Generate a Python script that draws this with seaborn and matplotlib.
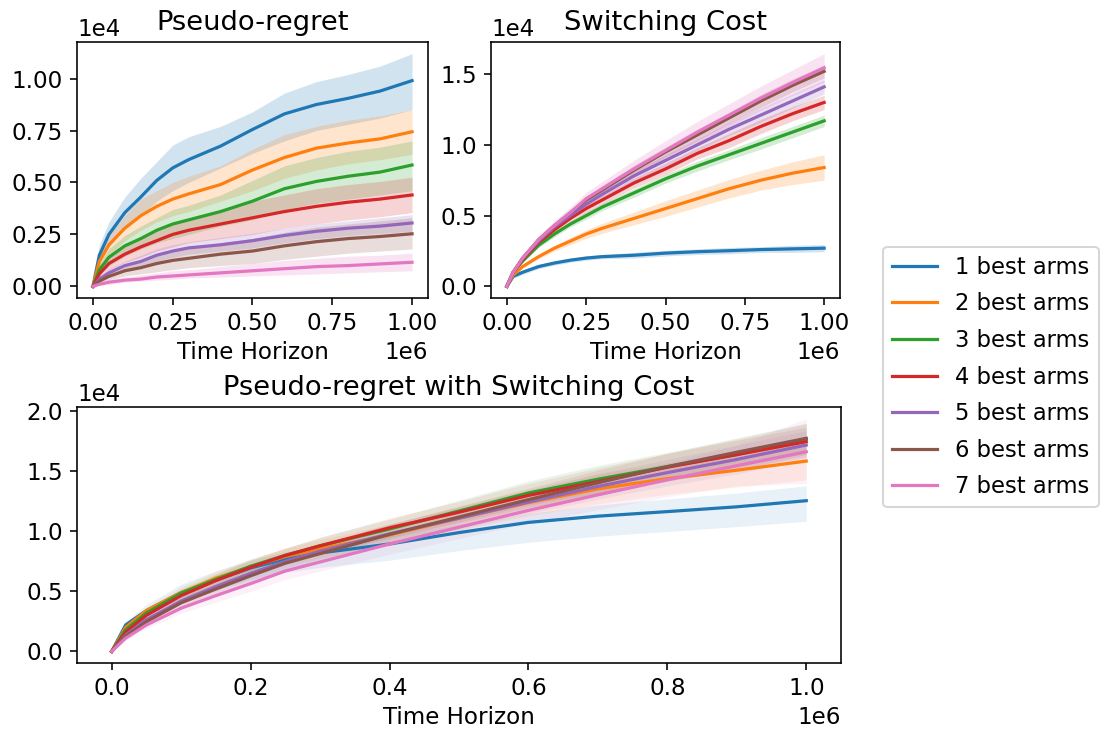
import numpy as np
import pandas as pd
import matplotlib
matplotlib.use("Agg")
import matplotlib.pyplot as plt
import seaborn as sns

# Time horizon (x 1e6)
T = [0, 0.02, 0.05, 0.1, 0.15, 0.2, 0.25, 0.3, 0.4, 0.5, 0.6, 0.7, 0.8, 0.9, 1.0]
labels = ["1 best arms", "2 best arms", "3 best arms", "4 best arms",
          "5 best arms", "6 best arms", "7 best arms"]

# Tick positions (axis units: x in 1e6, y in 1e4)
top_xticks = [0, 0.25, 0.5, 0.75, 1.0]
bot_xticks = [0, 0.2, 0.4, 0.6, 0.8, 1.0]
reg_yticks = [0, 0.25, 0.5, 0.75, 1.0]
sw_yticks = [0, 0.5, 1.0, 1.5]
tot_yticks = [0, 0.5, 1.0, 1.5, 2.0]

# ---------------- Pseudo-regret (x 1e4) ----------------
reg_mean = [
    [0, 0.15, 0.25, 0.355, 0.43, 0.51, 0.57, 0.61, 0.675, 0.755, 0.83, 0.875, 0.905, 0.94, 0.99],
    [0, 0.12, 0.20, 0.28, 0.34, 0.385, 0.42, 0.445, 0.49, 0.56, 0.62, 0.665, 0.69, 0.71, 0.744],
    [0, 0.08, 0.14, 0.195, 0.23, 0.27, 0.30, 0.32, 0.36, 0.41, 0.47, 0.505, 0.53, 0.55, 0.584],
    [0, 0.06, 0.11, 0.155, 0.19, 0.22, 0.25, 0.27, 0.30, 0.33, 0.36, 0.385, 0.405, 0.42, 0.44],
    [0, 0.035, 0.065, 0.10, 0.12, 0.15, 0.17, 0.185, 0.20, 0.22, 0.245, 0.265, 0.28, 0.29, 0.305],
    [0, 0.025, 0.048, 0.075, 0.09, 0.11, 0.125, 0.135, 0.155, 0.17, 0.195, 0.215, 0.23, 0.24, 0.253],
    [0, 0.01, 0.02, 0.03, 0.035, 0.045, 0.05, 0.055, 0.065, 0.075, 0.085, 0.095, 0.10, 0.108, 0.116],
]
reg_up = [
    [0, 0.20, 0.31, 0.43, 0.52, 0.60, 0.68, 0.72, 0.77, 0.84, 0.93, 0.985, 1.02, 1.06, 1.12],
    [0, 0.16, 0.25, 0.34, 0.42, 0.46, 0.50, 0.53, 0.58, 0.66, 0.73, 0.77, 0.80, 0.82, 0.85],
    [0, 0.11, 0.18, 0.245, 0.29, 0.33, 0.37, 0.39, 0.44, 0.51, 0.58, 0.62, 0.65, 0.67, 0.70],
    [0, 0.08, 0.14, 0.195, 0.24, 0.28, 0.31, 0.33, 0.37, 0.41, 0.44, 0.47, 0.49, 0.505, 0.525],
    [0, 0.045, 0.085, 0.12, 0.15, 0.18, 0.20, 0.215, 0.235, 0.255, 0.28, 0.30, 0.315, 0.33, 0.345],
    [0, 0.035, 0.065, 0.10, 0.125, 0.15, 0.17, 0.185, 0.21, 0.23, 0.26, 0.285, 0.30, 0.315, 0.33],
    [0, 0.015, 0.03, 0.045, 0.055, 0.065, 0.075, 0.08, 0.095, 0.11, 0.125, 0.135, 0.145, 0.15, 0.16],
]
reg_lo = [
    [0, 0.11, 0.19, 0.28, 0.34, 0.41, 0.46, 0.50, 0.57, 0.64, 0.70, 0.75, 0.78, 0.81, 0.85],
    [0, 0.08, 0.15, 0.22, 0.27, 0.31, 0.34, 0.36, 0.41, 0.46, 0.52, 0.56, 0.59, 0.61, 0.635],
    [0, 0.05, 0.10, 0.145, 0.18, 0.21, 0.23, 0.25, 0.29, 0.32, 0.37, 0.40, 0.42, 0.44, 0.46],
    [0, 0.04, 0.08, 0.115, 0.14, 0.17, 0.19, 0.21, 0.23, 0.25, 0.28, 0.30, 0.32, 0.335, 0.355],
    [0, 0.025, 0.05, 0.08, 0.095, 0.12, 0.14, 0.155, 0.17, 0.185, 0.21, 0.23, 0.245, 0.255, 0.265],
    [0, 0.015, 0.03, 0.05, 0.06, 0.07, 0.08, 0.09, 0.10, 0.11, 0.13, 0.145, 0.16, 0.17, 0.18],
    [0, 0.005, 0.01, 0.02, 0.025, 0.03, 0.035, 0.04, 0.045, 0.05, 0.055, 0.06, 0.065, 0.07, 0.075],
]

# ---------------- Switching cost (x 1e4) ----------------
sw_mean = [
    [0, 0.07, 0.10, 0.14, 0.165, 0.185, 0.20, 0.21, 0.22, 0.235, 0.245, 0.252, 0.26, 0.265, 0.27],
    [0, 0.08, 0.14, 0.21, 0.27, 0.32, 0.37, 0.41, 0.48, 0.55, 0.62, 0.69, 0.75, 0.80, 0.84],
    [0, 0.10, 0.18, 0.29, 0.37, 0.44, 0.50, 0.56, 0.66, 0.76, 0.85, 0.93, 1.01, 1.09, 1.17],
    [0, 0.10, 0.19, 0.31, 0.40, 0.48, 0.55, 0.61, 0.73, 0.83, 0.94, 1.03, 1.13, 1.22, 1.30],
    [0, 0.10, 0.20, 0.32, 0.42, 0.50, 0.58, 0.65, 0.78, 0.89, 1.00, 1.11, 1.21, 1.31, 1.41],
    [0, 0.10, 0.20, 0.33, 0.43, 0.52, 0.61, 0.68, 0.82, 0.95, 1.07, 1.19, 1.31, 1.42, 1.52],
    [0, 0.10, 0.20, 0.33, 0.43, 0.52, 0.62, 0.69, 0.83, 0.96, 1.09, 1.21, 1.33, 1.44, 1.545],
]
sw_up = [
    [0, 0.08, 0.115, 0.155, 0.18, 0.20, 0.215, 0.225, 0.24, 0.255, 0.265, 0.275, 0.28, 0.29, 0.295],
    [0, 0.085, 0.15, 0.225, 0.29, 0.345, 0.40, 0.445, 0.525, 0.605, 0.68, 0.755, 0.82, 0.88, 0.93],
    [0, 0.105, 0.19, 0.305, 0.39, 0.46, 0.525, 0.585, 0.69, 0.79, 0.885, 0.965, 1.05, 1.13, 1.21],
    [0, 0.11, 0.20, 0.325, 0.42, 0.505, 0.58, 0.64, 0.765, 0.87, 0.98, 1.08, 1.18, 1.27, 1.35],
    [0, 0.11, 0.21, 0.335, 0.44, 0.525, 0.61, 0.68, 0.815, 0.93, 1.04, 1.155, 1.26, 1.36, 1.46],
    [0, 0.11, 0.21, 0.345, 0.45, 0.545, 0.635, 0.71, 0.855, 0.985, 1.11, 1.23, 1.355, 1.465, 1.565],
    [0, 0.11, 0.215, 0.355, 0.465, 0.56, 0.665, 0.74, 0.89, 1.03, 1.165, 1.29, 1.415, 1.53, 1.645],
]
sw_lo = [
    [0, 0.06, 0.085, 0.125, 0.15, 0.17, 0.185, 0.195, 0.20, 0.215, 0.225, 0.23, 0.24, 0.24, 0.245],
    [0, 0.075, 0.13, 0.195, 0.25, 0.295, 0.34, 0.375, 0.435, 0.495, 0.56, 0.625, 0.68, 0.72, 0.75],
    [0, 0.095, 0.17, 0.275, 0.35, 0.42, 0.475, 0.535, 0.63, 0.73, 0.815, 0.895, 0.97, 1.05, 1.13],
    [0, 0.09, 0.18, 0.295, 0.38, 0.455, 0.52, 0.58, 0.695, 0.79, 0.90, 0.98, 1.08, 1.17, 1.25],
    [0, 0.09, 0.19, 0.305, 0.40, 0.475, 0.55, 0.62, 0.745, 0.85, 0.96, 1.065, 1.16, 1.26, 1.36],
    [0, 0.09, 0.19, 0.315, 0.41, 0.495, 0.585, 0.65, 0.785, 0.915, 1.03, 1.15, 1.265, 1.375, 1.475],
    [0, 0.09, 0.185, 0.305, 0.395, 0.48, 0.575, 0.64, 0.77, 0.89, 1.015, 1.13, 1.245, 1.35, 1.445],
]

# ---------------- Pseudo-regret with switching cost (x 1e4) ----------------
tot_mean = [
    [0, 0.22, 0.34, 0.49, 0.595, 0.695, 0.77, 0.82, 0.895, 0.99, 1.075, 1.127, 1.165, 1.205, 1.256],
    [0, 0.20, 0.34, 0.49, 0.61, 0.705, 0.79, 0.855, 0.97, 1.11, 1.24, 1.355, 1.44, 1.51, 1.586],
    [0, 0.18, 0.32, 0.485, 0.60, 0.71, 0.80, 0.88, 1.02, 1.17, 1.32, 1.435, 1.54, 1.64, 1.77],
    [0, 0.16, 0.30, 0.465, 0.59, 0.70, 0.80, 0.88, 1.03, 1.16, 1.30, 1.415, 1.535, 1.64, 1.748],
    [0, 0.135, 0.265, 0.42, 0.54, 0.65, 0.75, 0.835, 0.98, 1.11, 1.245, 1.375, 1.49, 1.60, 1.72],
    [0, 0.125, 0.248, 0.405, 0.52, 0.63, 0.735, 0.815, 0.975, 1.12, 1.265, 1.405, 1.54, 1.66, 1.776],
    [0, 0.11, 0.22, 0.36, 0.465, 0.565, 0.67, 0.745, 0.895, 1.035, 1.175, 1.305, 1.43, 1.548, 1.664],
]
tot_up = [
    [0, 0.25, 0.39, 0.56, 0.67, 0.76, 0.83, 0.88, 0.96, 1.06, 1.15, 1.22, 1.27, 1.32, 1.38],
    [0, 0.22, 0.37, 0.54, 0.67, 0.77, 0.86, 0.93, 1.06, 1.21, 1.35, 1.48, 1.57, 1.65, 1.74],
    [0, 0.20, 0.35, 0.525, 0.65, 0.77, 0.86, 0.95, 1.10, 1.26, 1.42, 1.55, 1.66, 1.77, 1.90],
    [0, 0.18, 0.33, 0.505, 0.64, 0.76, 0.86, 0.95, 1.11, 1.25, 1.40, 1.53, 1.65, 1.76, 1.87],
    [0, 0.155, 0.295, 0.46, 0.59, 0.71, 0.81, 0.90, 1.06, 1.20, 1.34, 1.48, 1.60, 1.72, 1.84],
    [0, 0.145, 0.28, 0.45, 0.57, 0.69, 0.80, 0.89, 1.06, 1.21, 1.36, 1.51, 1.65, 1.78, 1.90],
    [0, 0.13, 0.25, 0.40, 0.52, 0.63, 0.74, 0.82, 0.98, 1.13, 1.28, 1.43, 1.57, 1.72, 1.94],
]
tot_lo = [
    [0, 0.19, 0.29, 0.42, 0.51, 0.60, 0.66, 0.70, 0.76, 0.84, 0.91, 0.96, 1.00, 1.04, 1.085],
    [0, 0.18, 0.31, 0.44, 0.55, 0.64, 0.72, 0.78, 0.88, 1.01, 1.13, 1.23, 1.31, 1.37, 1.43],
    [0, 0.16, 0.29, 0.445, 0.55, 0.65, 0.74, 0.81, 0.94, 1.08, 1.22, 1.32, 1.42, 1.51, 1.64],
    [0, 0.14, 0.27, 0.425, 0.54, 0.64, 0.74, 0.81, 0.95, 1.07, 1.20, 1.30, 1.42, 1.52, 1.62],
    [0, 0.115, 0.235, 0.38, 0.49, 0.59, 0.69, 0.77, 0.90, 1.02, 1.15, 1.27, 1.38, 1.48, 1.60],
    [0, 0.105, 0.215, 0.36, 0.47, 0.57, 0.67, 0.74, 0.89, 1.03, 1.17, 1.30, 1.43, 1.54, 1.65],
    [0, 0.09, 0.19, 0.32, 0.41, 0.50, 0.60, 0.67, 0.81, 0.94, 1.07, 1.18, 1.29, 1.38, 1.40],
]

colors = sns.color_palette("tab10", 7)
DPI = 144
plt.rcParams.update({
    "font.size": 11.5,
    "xtick.labelsize": 11.5,
    "ytick.labelsize": 11.5,
    "axes.labelsize": 11.5,
})
fig = plt.figure(figsize=(1101 / DPI, 734 / DPI), dpi=DPI)
W, H = 1101, 734


def add_ax(l, t, r, b):
    return fig.add_axes([l / W, 1 - b / H, (r - l) / W, (b - t) / H])


ax1 = add_ax(77, 42, 428, 298)
ax2 = add_ax(491, 42, 840, 298)
ax3 = add_ax(77, 407, 841, 663)


def draw(ax, means, ups, los, alpha, title, xt, yt):
    x = np.array(T) * 1e6
    for i, lab in enumerate(labels):
        df = pd.DataFrame({"t": x, "v": np.array(means[i]) * 1e4})
        sns.lineplot(data=df, x="t", y="v", ax=ax, color=colors[i], lw=1.6,
                     label=lab, legend=False)
        ax.fill_between(x, np.array(los[i]) * 1e4, np.array(ups[i]) * 1e4,
                        color=colors[i], alpha=alpha, lw=0)
    ax.set_xticks(np.array(xt) * 1e6)
    ax.set_yticks(np.array(yt) * 1e4)
    ax.set_title(title, fontsize=13.7)
    ax.set_xlabel("Time Horizon", fontsize=11.5, labelpad=3)
    ax.set_ylabel("")
    ax.ticklabel_format(style="sci", axis="both", scilimits=(0, 0))


draw(ax1, reg_mean, reg_up, reg_lo, 0.2, "Pseudo-regret", top_xticks, reg_yticks)
draw(ax2, sw_mean, sw_up, sw_lo, 0.2, "Switching Cost", top_xticks, sw_yticks)
draw(ax3, tot_mean, tot_up, tot_lo, 0.1, "Pseudo-regret with Switching Cost",
     bot_xticks, tot_yticks)

handles = ax1.get_lines()[:7]
fig.legend(handles, labels, loc="center left", bbox_to_anchor=(883 / W, 1 - 377 / H),
           borderaxespad=0, fontsize=11.3, labelspacing=0.6)

fig.savefig("out.png", dpi=DPI)
